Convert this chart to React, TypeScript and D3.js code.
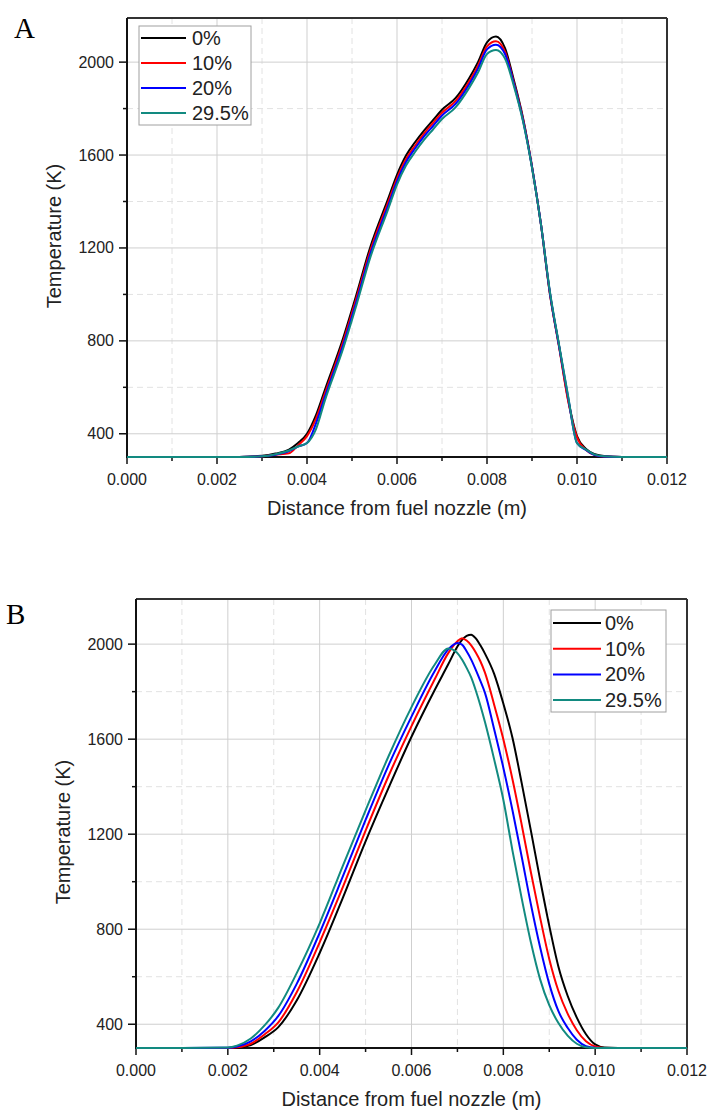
import React from 'react';
import * as d3 from 'd3';

// legend entries (mass fraction of additive)
const seriesNames = ['0%', '10%', '20%', '29.5%'];
const seriesColors = ['#000000', '#ff0000', '#0000ff', '#128a80'];

const xTickValues = [0, 0.002, 0.004, 0.006, 0.008, 0.01, 0.012];
const xMinorValues = [0.001, 0.003, 0.005, 0.007, 0.009, 0.011];
const yTickValues = [400, 800, 1200, 1600, 2000];
const yMinorValues = [600, 1000, 1400, 1800];

// panel A: distance from fuel nozzle (m) and temperature (K)
const distA = [0, 0.001, 0.002, 0.0025, 0.003, 0.0033, 0.0036, 0.0038, 0.004, 0.0042, 0.0044, 0.0048, 0.0051,
  0.0054, 0.0058, 0.006, 0.0062, 0.0064, 0.0066, 0.0068, 0.007, 0.0073, 0.0076, 0.0078, 0.008, 0.0082, 0.0084,
  0.0086, 0.0088, 0.009, 0.0092, 0.0094, 0.0096, 0.0098, 0.01, 0.0102, 0.0104, 0.0106, 0.011, 0.012];
const tempA0 = [300, 300, 300, 300, 305, 315, 332, 360, 400, 480, 590, 810, 1000, 1200, 1410, 1515, 1598, 1655,
  1705, 1750, 1795, 1845, 1930, 2000, 2085, 2110, 2060, 1920, 1760, 1550, 1300, 1000, 780, 550, 390, 335, 312,
  304, 300, 300];
const tempA10 = [300, 300, 300, 300, 303, 310, 316, 350, 390, 465, 575, 795, 985, 1185, 1395, 1500, 1583, 1640,
  1692, 1738, 1782, 1832, 1915, 1985, 2068, 2090, 2045, 1910, 1755, 1550, 1300, 1000, 775, 545, 385, 330, 308,
  302, 300, 300];
const tempA20 = [300, 300, 300, 300, 303, 310, 325, 345, 360, 445, 560, 780, 970, 1170, 1380, 1487, 1570, 1628,
  1680, 1725, 1770, 1820, 1903, 1972, 2055, 2075, 2035, 1905, 1750, 1548, 1300, 1005, 780, 560, 360, 330, 308,
  302, 300, 300];
const tempA295 = [300, 300, 300, 300, 303, 312, 328, 345, 360, 420, 545, 765, 955, 1155, 1365, 1473, 1555, 1613,
  1665, 1710, 1755, 1805, 1888, 1955, 2035, 2052, 2015, 1895, 1745, 1545, 1300, 1010, 785, 565, 360, 332, 310,
  303, 300, 300];

// panel B
const distB = [0, 0.001, 0.002, 0.0022, 0.0025, 0.0028, 0.0031, 0.0035, 0.004, 0.0045, 0.005, 0.0055, 0.006,
  0.0065, 0.0068, 0.007, 0.0071, 0.0072, 0.0073, 0.0074, 0.0075, 0.0076, 0.0078, 0.008, 0.0082, 0.0084, 0.0086,
  0.0088, 0.009, 0.0092, 0.0094, 0.0096, 0.0098, 0.01, 0.0102, 0.0105, 0.011, 0.012];
const tempB0 = [300, 300, 300, 301, 312, 345, 388, 500, 700, 930, 1170, 1395, 1610, 1805, 1915, 1990, 2018, 2035,
  2040, 2024, 1995, 1960, 1875, 1750, 1605, 1415, 1215, 1010, 815, 642, 520, 428, 358, 315, 302, 300, 300, 300];
const tempB10 = [300, 300, 300, 303, 318, 357, 408, 535, 745, 975, 1215, 1445, 1655, 1850, 1962, 2012, 2025, 2015,
  1995, 1965, 1928, 1880, 1745, 1600, 1430, 1240, 1040, 850, 675, 540, 445, 375, 328, 306, 300, 300, 300, 300];
const tempB20 = [300, 300, 301, 306, 328, 372, 435, 570, 785, 1020, 1260, 1490, 1695, 1885, 1978, 2005, 1998, 1970,
  1935, 1892, 1845, 1795, 1642, 1480, 1300, 1105, 905, 725, 570, 455, 385, 335, 308, 301, 300, 300, 300, 300];
const tempB295 = [300, 300, 302, 310, 340, 395, 470, 615, 825, 1065, 1300, 1528, 1735, 1912, 1982, 1962, 1935, 1900,
  1860, 1805, 1742, 1672, 1515, 1345, 1130, 930, 745, 590, 480, 405, 352, 318, 303, 300, 300, 300, 300, 300];

const font = 'Liberation Sans, Arial, sans-serif';

function Panel(props: any) {
  const { letter, letterX, letterY, left, top, right, bottom, dist, temps, legend, yTitleY } = props;
  const x = d3.scaleLinear().domain([0, 0.012]).range([left, right]);
  const y = d3.scaleLinear().domain([300, 2190]).range([bottom, top]);
  const fmt = d3.format('.3f');
  const line = d3.line<number>()
    .x((d, i) => x(dist[i]))
    .y(d => y(d))
    .curve(d3.curveMonotoneX);

  return (
    <g>
      <text x={letterX} y={letterY} fontFamily="Liberation Serif, Times New Roman, serif" fontSize={29}>{letter}</text>

      {/* grid */}
      {xMinorValues.map(v => (
        <line key={'xm' + v} x1={x(v)} x2={x(v)} y1={top} y2={bottom} stroke="#e2e2e2" strokeDasharray="6,4" />
      ))}
      {yMinorValues.map(v => (
        <line key={'ym' + v} x1={left} x2={right} y1={y(v)} y2={y(v)} stroke="#e2e2e2" strokeDasharray="6,4" />
      ))}
      {xTickValues.slice(1, -1).map(v => (
        <line key={'xg' + v} x1={x(v)} x2={x(v)} y1={top} y2={bottom} stroke="#cfcfcf" />
      ))}
      {yTickValues.map(v => (
        <line key={'yg' + v} x1={left} x2={right} y1={y(v)} y2={y(v)} stroke="#cfcfcf" />
      ))}

      {/* frame */}
      <line x1={left} x2={right} y1={top} y2={top} stroke="#333" strokeWidth={2} />
      <line x1={right} x2={right} y1={top} y2={bottom} stroke="#333" strokeWidth={2} />
      <line x1={left} x2={left} y1={top} y2={bottom + 1} stroke="#111" strokeWidth={2} />
      <line x1={left - 1} x2={right} y1={bottom} y2={bottom} stroke="#111" strokeWidth={2} />

      {/* y ticks */}
      {yTickValues.map(v => (
        <g key={'yt' + v}>
          <line x1={left - 8} x2={left} y1={y(v)} y2={y(v)} stroke="#111" strokeWidth={1.5} />
          <text x={left - 13} y={y(v) + 5.5} textAnchor="end" fontFamily={font} fontSize={16} fill="#222">{v}</text>
        </g>
      ))}
      {yMinorValues.map(v => (
        <line key={'ymt' + v} x1={left - 4} x2={left} y1={y(v)} y2={y(v)} stroke="#111" strokeWidth={1.5} />
      ))}

      {/* x ticks */}
      {xTickValues.map(v => (
        <g key={'xt' + v}>
          <line x1={x(v)} x2={x(v)} y1={bottom} y2={bottom + 7} stroke="#111" strokeWidth={1.5} />
          <text x={x(v)} y={bottom + 28} textAnchor="middle" fontFamily={font} fontSize={16} fill="#222">{fmt(v)}</text>
        </g>
      ))}
      {xMinorValues.map(v => (
        <line key={'xmt' + v} x1={x(v)} x2={x(v)} y1={bottom} y2={bottom + 4} stroke="#111" strokeWidth={1.5} />
      ))}

      {/* axis titles */}
      <text x={(left + right) / 2} y={bottom + 58} textAnchor="middle" fontFamily={font} fontSize={20} fill="#222">
        Distance from fuel nozzle (m)
      </text>
      <text transform={`translate(${left - 66},${yTitleY}) rotate(-90)`} textAnchor="middle" fontFamily={font}
        fontSize={20} fill="#222">Temperature (K)</text>

      {/* curves */}
      {temps.map((t: number[], i: number) => (
        <path key={'s' + i} d={line(t) || ''} fill="none" stroke={seriesColors[i]} strokeWidth={2}
          strokeLinejoin="round" />
      ))}

      {/* legend */}
      <rect x={legend.x} y={legend.y} width={legend.w} height={legend.h} fill="#fff" stroke="#a0a0a0" />
      {seriesNames.map((name, i) => {
        const cy = legend.y + legend.first + i * legend.step;
        return (
          <g key={'lg' + i}>
            <line x1={legend.x + 2} x2={legend.x + 2 + legend.len} y1={cy} y2={cy} stroke={seriesColors[i]}
              strokeWidth={2} />
            <text x={legend.x + legend.textX} y={cy + 7} fontFamily={font} fontSize={20} fill="#222">{name}</text>
          </g>
        );
      })}
    </g>
  );
}

export default function App() {
  return (
    <svg width={708} height={1112} style={{ position: 'absolute', left: 0, top: 0, background: '#fff' }}>
      <Panel letter="A" letterX={14} letterY={38} left={127} top={18} right={667} bottom={457}
        dist={distA} temps={[tempA0, tempA10, tempA20, tempA295]} yTitleY={236}
        legend={{ x: 139, y: 26, w: 112, h: 99, first: 12, step: 25, len: 45, textX: 53 }} />
      <Panel letter="B" letterX={6} letterY={624} left={136} top={599} right={687} bottom={1048}
        dist={distB} temps={[tempB0, tempB10, tempB20, tempB295]} yTitleY={832}
        legend={{ x: 551, y: 610, w: 115, h: 102, first: 13, step: 25.7, len: 48, textX: 54 }} />
    </svg>
  );
}
